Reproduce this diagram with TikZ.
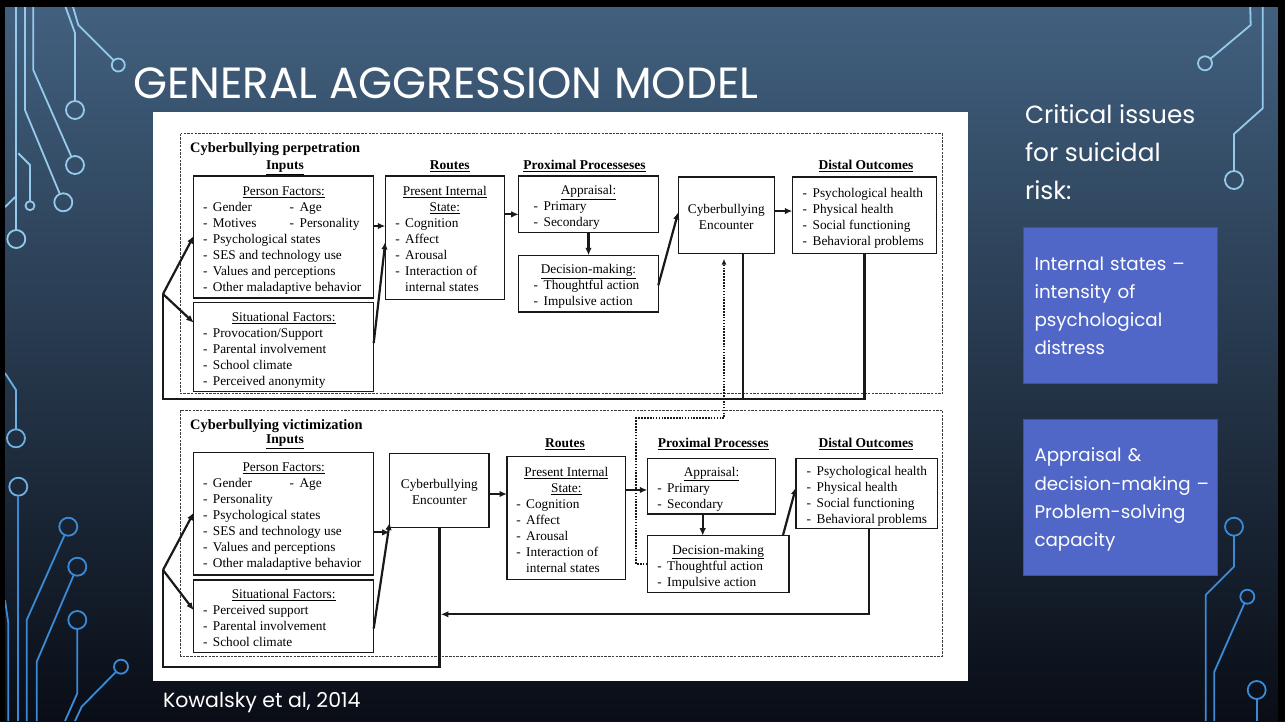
\documentclass[tikz,border=0pt]{standalone}
\usepackage{fontspec}
\setmainfont{Liberation Serif}
\newfontfamily\slidefont{Poppins}
\usetikzlibrary{arrows.meta}
\definecolor{bgtop}{RGB}{66,97,128}
\definecolor{bgmid}{RGB}{30,46,70}
\definecolor{bgbot}{RGB}{9,13,22}
\definecolor{circA}{RGB}{150,202,236}
\definecolor{circM}{RGB}{110,175,228}
\definecolor{circB}{RGB}{58,138,216}
\definecolor{boxblue}{RGB}{80,103,200}
\definecolor{boxedge}{RGB}{60,82,168}
\definecolor{ink}{RGB}{25,25,25}
\newcommand{\itm}{-\hspace{5.5pt}}
\newcommand{\ttl}[1]{\multicolumn{1}{@{}c@{}}{\underline{#1}}}
\newcommand{\dn}[1]{\raisebox{-3pt}[\height][\depth]{#1}}
\tikzset{
  gbox/.style={draw=ink, line width=1.1pt, inner sep=0pt, outer sep=0pt, anchor=north west, align=center, font=\fontsize{13.3}{16}\selectfont},
  arr/.style={draw=ink, line width=2.2pt, -{Latex[length=7.5pt,width=6.5pt]}},
  loopline/.style={draw=ink, line width=2.4pt},
  dotarr/.style={draw=ink, line width=2pt, dash pattern=on 1.6pt off 1.3pt, -{Latex[length=6pt,width=5pt]}},
  outerbox/.style={draw=ink!85, line width=0.9pt, dash pattern=on 2.5pt off 1.2pt},
  hd/.style={font=\fontsize{13.5}{16}\selectfont\bfseries, anchor=base, inner sep=0pt},
  cA/.style={draw=circA, line width=1.8pt},
  cM/.style={draw=circM, line width=1.8pt},
  cB/.style={draw=circB, line width=1.8pt},
  ring/.style={circle, line width=1.8pt, inner sep=0pt, outer sep=0pt, minimum size=#1},
  slidetxt/.style={text=white, inner sep=0pt, outer sep=0pt},
  issue/.style={draw=boxedge, fill=boxblue, line width=1pt, anchor=north west, minimum width=194pt, minimum height=156pt, text width=172.6pt, inner xsep=10.7pt, inner ysep=0pt, align=left, text=white, font=\slidefont\fontsize{18.3}{28.3}\selectfont}
}
\begin{document}
\begin{tikzpicture}[x=1pt,y=-1pt]
\useasboundingbox (0,0) rectangle (1285,721);
% background
\shade[top color=bgtop, middle color=bgmid, bottom color=bgbot] (0,0) rectangle (1285,721);

% ---------- circuit decorations ----------
% left top
\node[ring=18pt, cA] (cl1) at (16.3,239) {};
\node[ring=18pt, cA] (cl2) at (63.3,202.3) {};
\node[ring=18pt, cA] (cl3) at (75,165) {};
\node[ring=18pt, cA] (cl4) at (75,110) {};
\node[ring=13pt, cA] (cl5) at (118.3,65) {};
\node[ring=9pt, cA] (cl6) at (30,205.7) {};
\draw[cA] (16.3,0) -- (cl1);
\draw[cA] (25,0) -- (25,110) -- (cl2);
\draw[cA] (33.3,0) -- (33.3,70) -- (cl3);
\draw[cA] (63,0) -- (75,33) -- (cl4);
\draw[cA] (71,0) -- (78.3,25) -- (cl5);
\draw[cA] (18.3,153.3) -- (30,165) -- (cl6);
\draw[cA] (5,207) -- (16.3,196);
% left bottom
\node[ring=18pt, cM] (cl7) at (16,438.3) {};
\node[ring=18pt, cM] (cl8) at (18.3,486.7) {};
\node[ring=18pt, cB] (cl9) at (68.3,526.7) {};
\node[ring=18pt, cB] (cl10) at (77.3,566.7) {};
\node[ring=18pt, cB] (cl11) at (77.3,620) {};
\node[ring=14pt, cB] (cl12) at (121,666.7) {};
\draw[cM] (5,373) -- (16,390) -- (cl7);
\draw[cB] (cl8) -- (18.3,721);
\draw[cB] (cl9) -- (26.7,620) -- (26.7,721);
\draw[cB] (cl10) -- (36.7,661.7) -- (36.7,721);
\draw[cB] (cl11) -- (77.3,693.3) -- (65,721);
\draw[cB] (cl12) -- (81.7,706.7) -- (75,721);
\draw[cB] (5,600) -- (8.3,623) -- (8.3,721);
% right top
\node[ring=14pt, cA] (cr1) at (1205,63.3) {};
\node[ring=18pt, cA] (cr2) at (1234,180) {};
\draw[cA] (1250,0) -- (1250.7,25) -- (cr1);
\draw[cA] (1262.7,0) -- (1262.7,108.3) -- (1234,134) -- (cr2);
% right bottom
\node[ring=18pt, cB] (cr3) at (1234,526.7) {};
\node[ring=14pt, cB] (cr4) at (1247.3,596.7) {};
\node[ring=18pt, cB] (cr5) at (1256.7,690) {};
\draw[cB] (cr3) -- (1234,566.7) -- (1205.7,595) -- (1205.7,721);
\draw[cB] (cr4) -- (1214.3,671.7) -- (1214.3,721);
\draw[cB] (cr5) -- (1256.7,721);

% ---------- white figure panel ----------
\fill[white] (153,112) rectangle (968,681);

% outer dashed frames
\draw[outerbox] (180.7,133.7) rectangle (942.7,393.7);
\draw[outerbox] (180.7,410) rectangle (942.7,656);

% ---------- perpetration ----------
\node[font=\fontsize{14.4}{16}\selectfont\bfseries, anchor=base west, inner sep=0pt] (tperp) at (190,152) {Cyberbullying perpetration};
\node[hd] (hin1) at (285,169.5) {\underline{Inputs}};
\node[hd] (hro1) at (449.7,169.5) {\underline{Routes}};
\node[hd] (hpp1) at (584.5,169.5) {\underline{Proximal Processeses}};
\node[hd] (hdo1) at (866,169.5) {\underline{Distal Outcomes}};

\node[gbox, minimum width=180pt, minimum height=122pt] (pf1) at (193.7,176) {\dn{\begin{tabular}{@{}p{161.4pt}@{}}
\ttl{Person Factors:}\\
\makebox[86.7pt][l]{\itm Gender}\itm Age\\
\makebox[86.7pt][l]{\itm Motives}\itm Personality\\
\itm Psychological states\\
\itm SES and technology use\\
\itm Values and perceptions\\
\itm Other maladaptive behavior
\end{tabular}}};
\node[gbox, minimum width=180pt, minimum height=88.6pt] (sf1) at (193.7,302.7) {\dn{\begin{tabular}{@{}p{161.4pt}@{}}
\ttl{Situational Factors:}\\
\itm Provocation/Support\\
\itm Parental involvement\\
\itm School climate\\
\itm Perceived anonymity
\end{tabular}}};
\node[gbox, minimum width=119pt, minimum height=123.3pt] (pis1) at (385.3,176) {\dn{\begin{tabular}{@{}p{99pt}@{}}
\ttl{Present Internal}\\
\ttl{State:}\\
\itm Cognition\\
\itm Affect\\
\itm Arousal\\
\itm Interaction of\\
\phantom{\itm}internal states
\end{tabular}}};
\node[gbox, minimum width=139.6pt, minimum height=56.7pt] (app1) at (518.7,176) {\dn{\begin{tabular}{@{}p{109.6pt}@{}}
\ttl{Appraisal:}\\
\itm Primary\\
\itm Secondary
\end{tabular}}};
\node[gbox, minimum width=139.6pt, minimum height=56.7pt] (dec1) at (518.7,255.3) {\dn{\begin{tabular}{@{}p{109.6pt}@{}}
\ttl{Decision-making:}\\
\itm Thoughtful action\\
\itm Impulsive action
\end{tabular}}};
\node[gbox, minimum width=96pt, minimum height=76.7pt] (enc1) at (678.3,177) {\dn{\begin{tabular}{@{}c@{}}
Cyberbullying\\
Encounter
\end{tabular}}};
\node[gbox, minimum width=144.4pt, minimum height=76.7pt] (dist1) at (792.3,177) {\dn{\begin{tabular}{@{}p{123.6pt}@{}}
\itm Psychological health\\
\itm Physical health\\
\itm Social functioning\\
\itm Behavioral problems
\end{tabular}}};

\coordinate (v1) at (163,294);
\coordinate (b1) at (163,398.7);
\draw[arr] ([yshift=11pt]pf1.east) -- ([yshift=11pt]pf1.east -| pis1.west);
\draw[arr] ([yshift=4pt]sf1.east) -- ([yshift=-4.3pt]pis1.west);
\draw[arr] ([yshift=-10pt]app1.west -| pis1.east) -- ([yshift=-10pt]app1.west);
\draw[arr] (app1.south) -- (dec1.north);
\draw[arr] ([yshift=-1.6pt]dec1.east) -- ([yshift=3.3pt]enc1.west);
\draw[arr] ([yshift=4.3pt]enc1.east) -- ([yshift=4.3pt]enc1.east -| dist1.west);
\draw[loopline] (dist1.south) |- (b1) -- (v1);
\draw[loopline] ([xshift=16.4pt]enc1.south) -- ([xshift=16.4pt]enc1.south |- b1);
\draw[arr] (v1) -- ([yshift=1pt]pf1.west);
\draw[arr] (v1) -- ([yshift=24.3pt]sf1.west);

% ---------- victimization ----------
\node[font=\fontsize{14.4}{16}\selectfont\bfseries, anchor=base west, inner sep=0pt] (tvict) at (190,429) {Cyberbullying victimization};
\node[hd] (hin2) at (285,443.5) {\underline{Inputs}};
\node[hd] (hro2) at (565,447.5) {\underline{Routes}};
\node[hd] (hpp2) at (713.3,447.8) {\underline{Proximal Processes}};
\node[hd] (hdo2) at (866,447.8) {\underline{Distal Outcomes}};

\node[gbox, minimum width=180pt, minimum height=122.7pt] (pf2) at (193.7,452.3) {\dn{\begin{tabular}{@{}p{161.4pt}@{}}
\ttl{Person Factors:}\\
\makebox[86.7pt][l]{\itm Gender}\itm Age\\
\itm Personality\\
\itm Psychological states\\
\itm SES and technology use\\
\itm Values and perceptions\\
\itm Other maladaptive behavior
\end{tabular}}};
\node[gbox, minimum width=180pt, minimum height=72.3pt] (sf2) at (193.7,580) {\dn{\begin{tabular}{@{}p{161.4pt}@{}}
\ttl{Situational Factors:}\\
\itm Perceived support\\
\itm Parental involvement\\
\itm School climate
\end{tabular}}};
\node[gbox, minimum width=99.3pt, minimum height=74.4pt] (enc2) at (389.7,453.3) {\dn{\begin{tabular}{@{}c@{}}
Cyberbullying\\
Encounter
\end{tabular}}};
\node[gbox, minimum width=118.7pt, minimum height=122.6pt] (pis2) at (507,456.7) {\dn{\begin{tabular}{@{}p{100.1pt}@{}}
\ttl{Present Internal}\\
\ttl{State:}\\
\itm Cognition\\
\itm Affect\\
\itm Arousal\\
\itm Interaction of\\
\phantom{\itm}internal states
\end{tabular}}};
\node[gbox, minimum width=128.4pt, minimum height=55.7pt] (app2) at (647.3,458.3) {\dn{\begin{tabular}{@{}p{108.4pt}@{}}
\ttl{Appraisal:}\\
\itm Primary\\
\itm Secondary
\end{tabular}}};
\node[gbox, minimum width=141.7pt, minimum height=57pt] (dec2) at (647.3,535.7) {\dn{\begin{tabular}{@{}p{121.7pt}@{}}
\ttl{Decision-making}\\
\itm Thoughtful action\\
\itm Impulsive action
\end{tabular}}};
\node[gbox, minimum width=141.7pt, minimum height=70pt] (dist2) at (796,458.3) {\dn{\begin{tabular}{@{}p{120.3pt}@{}}
\itm Psychological health\\
\itm Physical health\\
\itm Social functioning\\
\itm Behavioral problems
\end{tabular}}};

\coordinate (v2) at (163,570);
\coordinate (b2) at (163,666.7);
\coordinate (m2) at (0,614.3);
\coordinate (d1) at (636,418.3);
\coordinate (d2) at (724,418.3);
\draw[arr] ([yshift=-18.7pt]pf2.east) -- ([yshift=-18.7pt]pf2.east -| enc2.west);
\draw[arr] ([yshift=-12.3pt]sf2.east) -- ([yshift=-32pt]enc2.west);
\draw[arr] ([yshift=-3.5pt]enc2.east) -- ([yshift=-3.5pt]enc2.east -| pis2.west);
\draw[arr] ([yshift=-3.8pt]app2.west -| pis2.east) -- ([yshift=-3.8pt]app2.west);
\draw[arr] ([xshift=-8.8pt]app2.south) -- ([xshift=-8.8pt]app2.south |- dec2.north);
\draw[arr] ([xshift=64.7pt]dec2.north) -- ([yshift=6pt]dist2.west);
\draw[arr] ([xshift=2.4pt]dist2.south) |- ([xshift=1.5pt]enc2.south |- m2);
\draw[loopline] (enc2.south) |- (b2) -- (v2);
\draw[arr] (v2) -- ([yshift=1pt]pf2.west);
\draw[arr] (v2) -- ([yshift=6pt]sf2.west);
\draw[dotarr] (dec2.west) -- (dec2.west -| d1) -- (d1) -- (d2) -- ([yshift=-5pt]d2 |- enc1.south);

% ---------- slide texts ----------
\node[slidetxt, anchor=base west, font=\slidefont\fontsize{43.7}{44}\selectfont] (title) at (133,98) {GENERAL AGGRESSION MODEL};
\node[slidetxt, anchor=north west, align=left, font=\slidefont\fontsize{24.8}{38.2}\selectfont] (crit) at (1025,104.5) {Critical issues\\for suicidal\\risk:};
\node[issue] (iss1) at (1023.3,227.3) {Internal states~–\\intensity of\\psychological\\distress};
\node[issue] (iss2) at (1023.3,419.3) {\raisebox{-2pt}[\height][\depth]{\parbox[t]{172.6pt}{\raggedright Appraisal \&\\\mbox{decision-making~–}\\Problem-solving\\capacity}}};
\node[slidetxt, anchor=base west, font=\slidefont\fontsize{20.5}{20.5}\selectfont] (cite) at (163,707) {Kowalsky et al, 2014};

% black frame strips
\fill[black] (0,0) rectangle (5,721);
\fill[black] (0,0) rectangle (1285,6.5);
\fill[black] (1278,0) rectangle (1285,721);
\end{tikzpicture}
\end{document}
